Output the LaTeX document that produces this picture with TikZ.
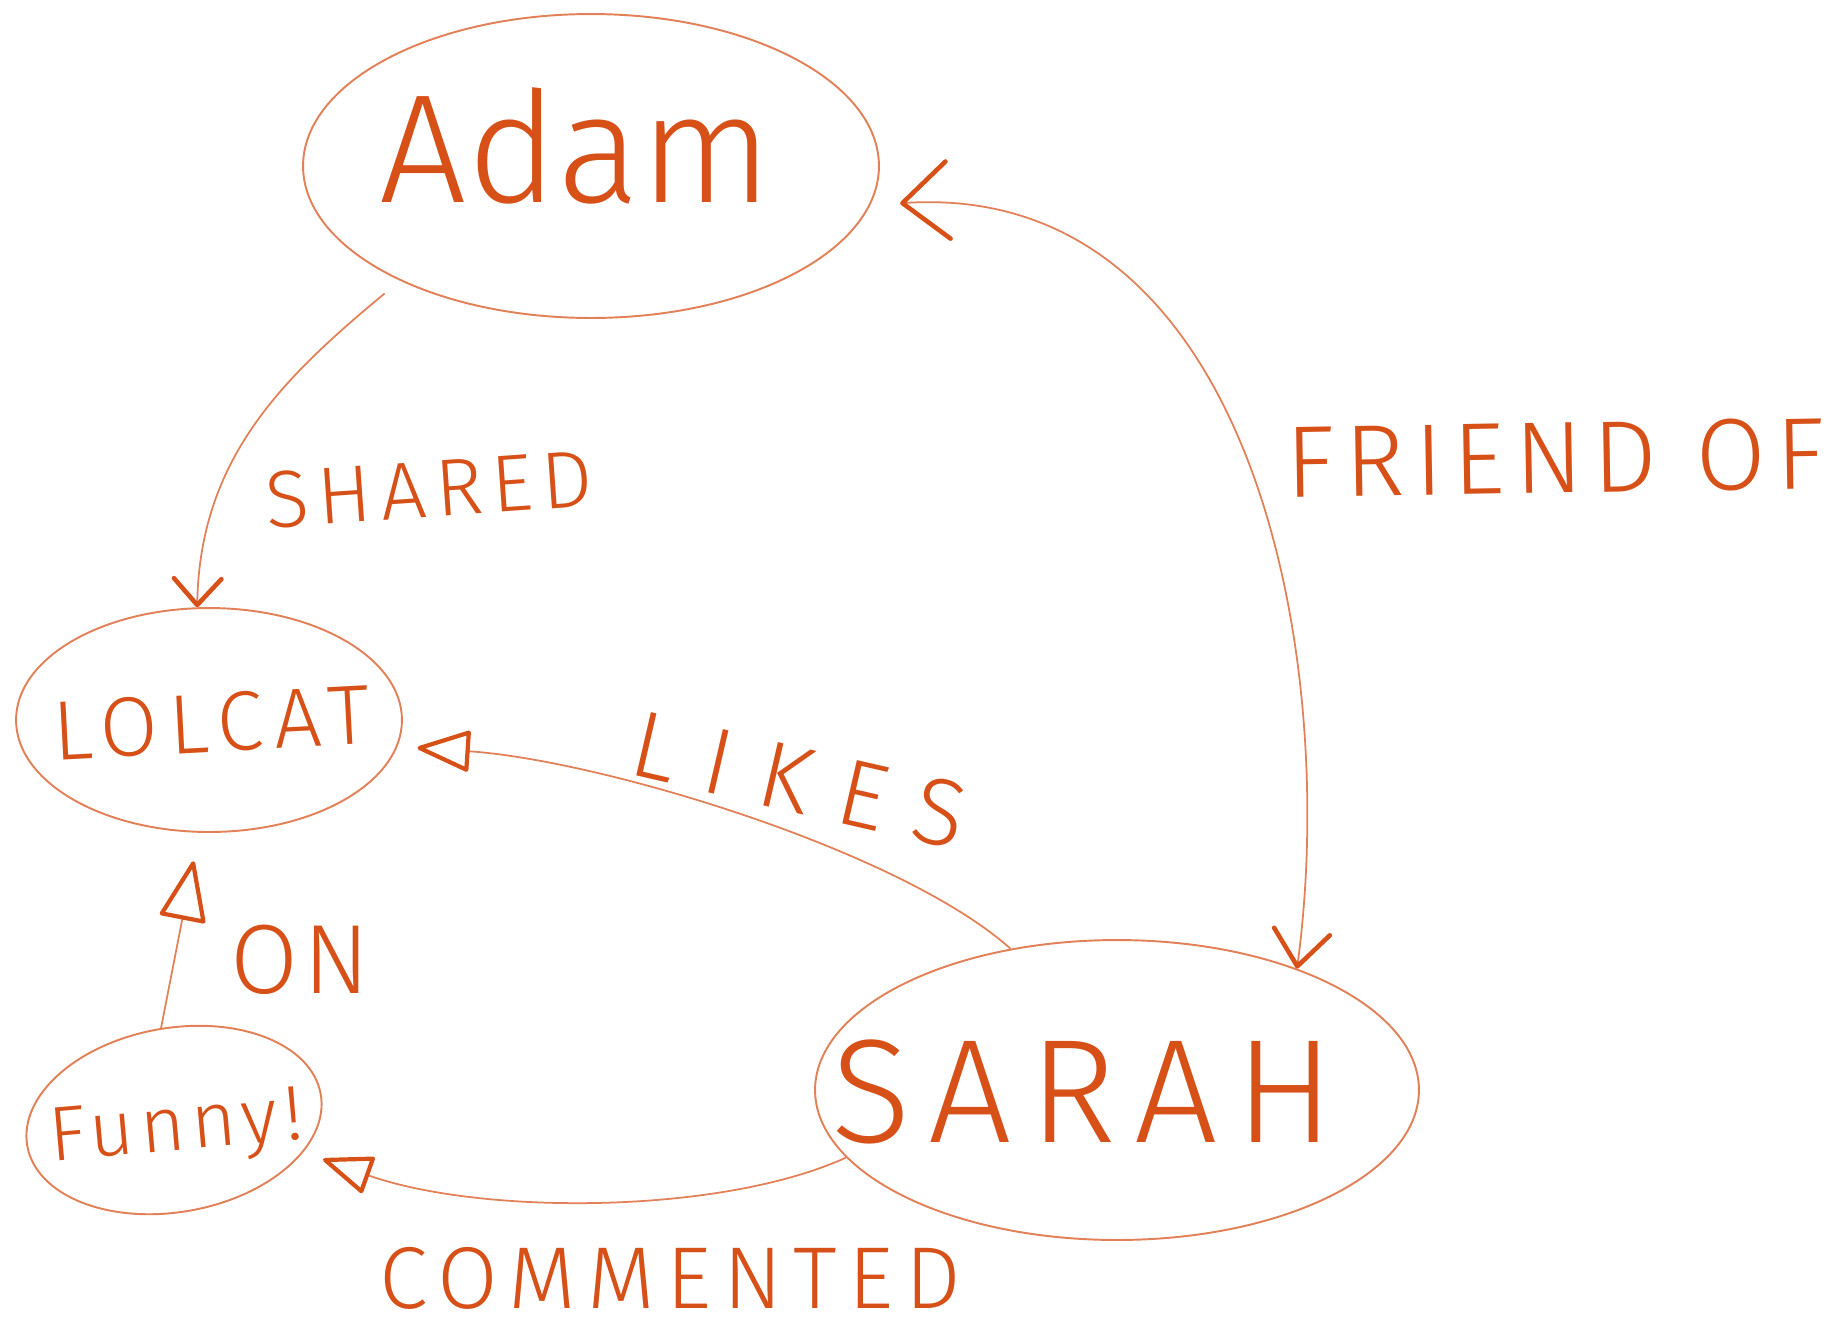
\documentclass[tikz,border=0pt]{standalone}
\usepackage{fontspec}
\setmainfont{Fira Sans}[UprightFont={* Light}]
\usetikzlibrary{shapes.geometric,arrows.meta}
\definecolor{ink}{RGB}{214,80,24}
\definecolor{pen}{RGB}{226,128,88}
\begin{document}
\begin{tikzpicture}[x=0.02cm,y=-0.02cm,
  bubble/.style={draw=pen, line width=1.1pt, ellipse, inner sep=0pt},
  word/.style={text=ink, anchor=base, inner sep=0pt},
  link/.style={draw=pen, line width=1pt},
  barbtip/.style={-{Straight Barb[length=#1, width=1.8*#1, line width=2.6pt, round, color=ink]}},
  opentip/.style={-{Triangle[open, length=#1, width=0.75*#1, line width=2.4pt, round, color=ink]}}
]
\useasboundingbox (0,0) rectangle (1842,1333);

% bubbles
\node[bubble, minimum width=11.52cm, minimum height=6.08cm] (adam) at (591,166) {};
\node[bubble, minimum width=7.72cm, minimum height=4.48cm] (lolcat) at (209,720) {};
\node[bubble, minimum width=5.96cm, minimum height=3.68cm, rotate=10] (funny) at (174,1120) {};
\node[bubble, minimum width=12.08cm, minimum height=6.0cm] (sarah) at (1117,1090) {};

% names inside the bubbles
\node[word, font=\fontsize{88}{90}\selectfont] (adamname) at (576,202) {Adam};
\node[word, font=\fontsize{48}{50}\selectfont\addfontfeatures{LetterSpace=13}, rotate=3] (lolcatname) at (213,752) {LOLCAT};
\node[word, font=\fontsize{44}{50}\selectfont\addfontfeatures{LetterSpace=8}, rotate=5] (funnyname) at (178,1150) {Funny!};
\node[word, font=\fontsize{84}{90}\selectfont\addfontfeatures{LetterSpace=12}] (sarahname) at (1083,1142) {SARAH};

% relation labels
\node[word, font=\fontsize{46}{50}\selectfont\addfontfeatures{LetterSpace=11}, rotate=4] (shared) at (431,517) {SHARED};
\node[word, font=\fontsize{58}{60}\selectfont\addfontfeatures{LetterSpace=9.5}, rotate=1] (friendof) at (1556,493) {FRIEND OF};
\node[word, font=\fontsize{54}{60}\selectfont\addfontfeatures{LetterSpace=31}, rotate=-13] (likes) at (792,812) {LIKES};
\node[word, font=\fontsize{56}{60}\selectfont\addfontfeatures{LetterSpace=5}] (on) at (300,993) {ON};
\node[word, font=\fontsize{50}{60}\selectfont\addfontfeatures{LetterSpace=13}] (commented) at (670,1308) {COMMENTED};

% connectors
\draw[link, barbtip=15pt, shorten <=0.4cm]
  (adam.211) .. controls (280,380) and (200,460) .. (lolcat.96);
\draw[link, {Straight Barb[length=26pt, width=44pt, line width=2.6pt, round, color=ink]}-{Straight Barb[length=20pt, width=32pt, line width=2.6pt, round, color=ink]}, shorten <=0.6cm]
  (adam.-8) .. controls (1250,180) and (1340,650) .. (sarah.34);
\draw[link, opentip=32pt, shorten >=0.4cm]
  (sarah.127) .. controls (900,850) and (600,760) .. (lolcat.-8);
\draw[link, opentip=30pt, shorten >=0.42cm]
  (sarah.194) .. controls (720,1215) and (480,1215) .. (funny.-24);
\draw[link, opentip=36pt, shorten >=0.58cm]
  (funny.88) -- (lolcat.265);
\end{tikzpicture}
\end{document}
